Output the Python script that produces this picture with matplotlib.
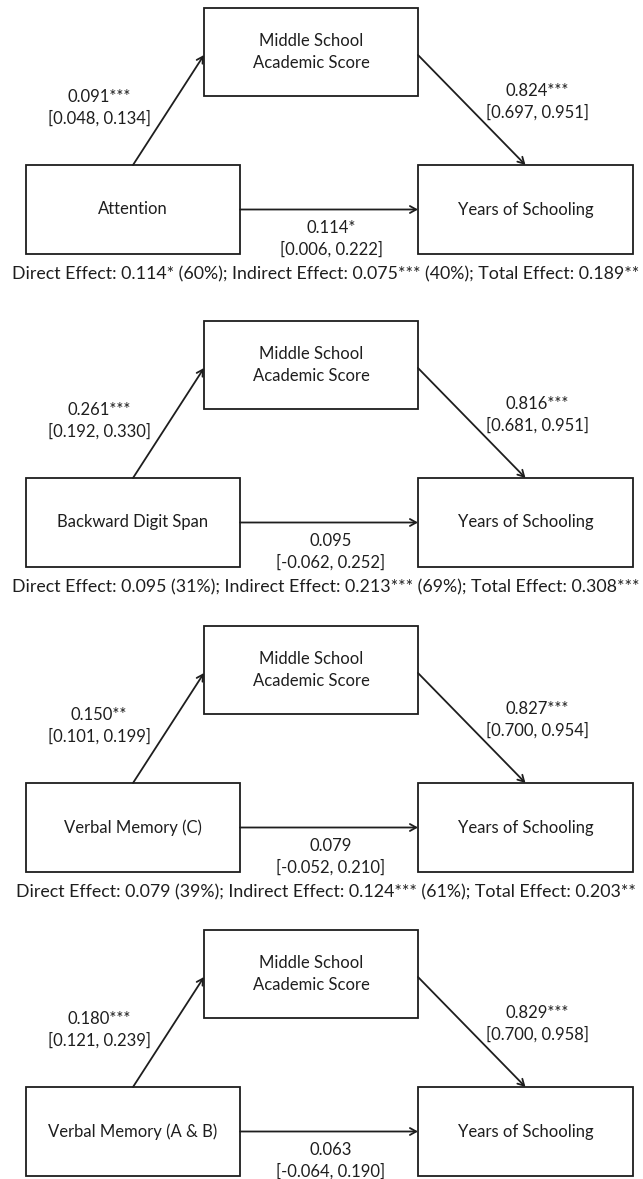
"""
Mediation path diagrams: cognitive measure -> middle school score -> years of schooling.
"""

import matplotlib

matplotlib.use("Agg")
import matplotlib.pyplot as plt
from matplotlib.patches import Rectangle

plt.rcParams["font.family"] = ["Lato", "DejaVu Sans"]

# path estimates for each predictor
predictors = ["Attention", "Backward Digit Span", "Verbal Memory (C)", "Verbal Memory (A & B)"]
mediator_lines = ["Middle School", "Academic Score"]
outcome = "Years of Schooling"

a_coef = [0.091, 0.261, 0.150, 0.180]
a_sig = ["***", "***", "**", "***"]
a_lo = [0.048, 0.192, 0.101, 0.121]
a_hi = [0.134, 0.330, 0.199, 0.239]

b_coef = [0.824, 0.816, 0.827, 0.829]
b_sig = ["***", "***", "***", "***"]
b_lo = [0.697, 0.681, 0.700, 0.700]
b_hi = [0.951, 0.951, 0.954, 0.958]

c_coef = [0.114, 0.095, 0.079, 0.063]
c_sig = ["*", "", "", ""]
c_lo = [0.006, -0.062, -0.052, -0.064]
c_hi = [0.222, 0.252, 0.210, 0.190]

# effect decomposition (last panel's line falls off the page)
direct_pct = [60, 31, 39]
indirect = [0.075, 0.213, 0.124]
indirect_sig = ["***", "***", "***"]
indirect_pct = [40, 69, 61]
total = [0.189, 0.308, 0.203]
total_sig = ["**", "***", "**"]

W, H = 643, 1179
panel_top = [8, 321, 626, 930]

INK = "#1e1e1e"
BOX_LW = 1.3
FS = 12.0


def ci(lo, hi):
    return f"[{lo:.3f}, {hi:.3f}]"


fig = plt.figure(figsize=(W / 100, H / 100), dpi=100)
ax = fig.add_axes([0, 0, 1, 1])
ax.set_xlim(0, W)
ax.set_ylim(H, 0)
ax.axis("off")


def box(x0, y0, x1, y1):
    ax.add_patch(Rectangle((x0, y0), x1 - x0, y1 - y0, fill=False,
                           ec=INK, lw=BOX_LW))


def arrow(x0, y0, x1, y1):
    ax.annotate("", xy=(x1, y1), xytext=(x0, y0),
                arrowprops=dict(arrowstyle="->,head_length=0.45,head_width=0.25",
                                color=INK, lw=BOX_LW, shrinkA=0, shrinkB=0))


def label(x, y, s, size=FS):
    ax.text(x, y, s, ha="center", va="center", fontsize=size, color=INK)


for i, name in enumerate(predictors):
    t = panel_top[i]
    # boxes: mediator on top, predictor left, outcome right
    mid = (204, t, 418, t + 88)
    left = (26, t + 157, 240, t + 246)
    right = (418, t + 157, 633, t + 246)
    box(*mid)
    box(*left)
    box(*right)

    ymid = (mid[1] + mid[3]) / 2 + 3
    ylr = (left[1] + left[3]) / 2
    arrow((left[0] + left[2]) / 2, left[1], mid[0], ymid)
    arrow(mid[2], ymid, (right[0] + right[2]) / 2, right[1])
    arrow(left[2], ylr, right[0], ylr)

    label(311, t + 33, mediator_lines[0])
    label(311, t + 55, mediator_lines[1])
    label((left[0] + left[2]) / 2, ylr, name)
    label((right[0] + right[2]) / 2, ylr, outcome)

    label(99, t + 89, f"{a_coef[i]:.3f}{a_sig[i]}")
    label(99, t + 110, ci(a_lo[i], a_hi[i]))
    label(537, t + 83, f"{b_coef[i]:.3f}{b_sig[i]}")
    label(537, t + 104, ci(b_lo[i], b_hi[i]))
    label(331, t + 220, f"{c_coef[i]:.3f}{c_sig[i]}")
    label(331, t + 241, ci(c_lo[i], c_hi[i]))

    if i < len(total):
        summary = (f"Direct Effect: {c_coef[i]:.3f}{c_sig[i]} ({direct_pct[i]}%); "
                   f"Indirect Effect: {indirect[i]:.3f}{indirect_sig[i]} ({indirect_pct[i]}%); "
                   f"Total Effect: {total[i]:.3f}{total_sig[i]}")
        label(326, t + 266, summary, size=FS + 0.8)

fig.savefig("out.png", dpi=100, facecolor="white")
